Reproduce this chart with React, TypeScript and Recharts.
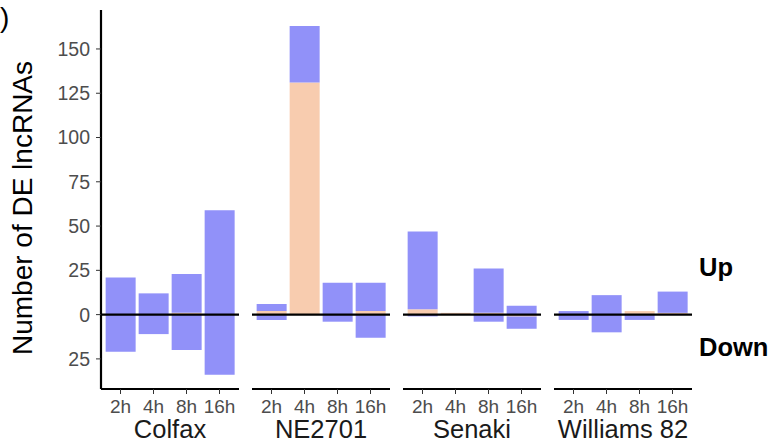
import { BarChart, Bar, XAxis, YAxis, ReferenceLine } from 'recharts';

const times = ['2h', '4h', '8h', '16h'];
const cultivars = ['Colfax', 'NE2701', 'Senaki', 'Williams 82'];

// totals per cultivar (blue + peach)
const upTotal = [
  [21, 12, 23, 59],
  [6, 163, 18, 18],
  [47, 1, 26, 5],
  [2, 11, 2, 13],
];
const upPeach = [
  [0, 0, 1, 0],
  [2, 131, 0, 2],
  [3, 1, 1, 0],
  [0, 0, 2, 1],
];
const downTotal = [
  [21, 11, 20, 34],
  [3, 0, 4, 13],
  [1, 0, 4, 8],
  [3, 10, 3, 0],
];
const downPeach = [
  [0, 0, 0, 0],
  [0, 0, 0, 0],
  [0, 0, 0, 1],
  [0, 0, 0, 0],
];
const yTicks = [-25, 0, 25, 50, 75, 100, 125, 150];

const BLUE = '#9191F9';
const PEACH = '#F8CCAF';
const FONT = '"Liberation Sans", Arial, sans-serif';

const panelLeft = [101, 252, 403, 554];
const PANEL_W = 138;
const Y_AXIS_W = 101;

function rows(c: number) {
  return times.map((t, i) => ({
    time: t,
    upPeach: upPeach[c][i],
    upBlue: upTotal[c][i] - upPeach[c][i],
    downPeach: -downPeach[c][i],
    downBlue: -(downTotal[c][i] - downPeach[c][i]),
  }));
}

function Panel({ c }: { c: number }) {
  const first = c === 0;
  const width = PANEL_W + (first ? Y_AXIS_W : 0);
  const left = panelLeft[c] - (first ? Y_AXIS_W : 0);
  return (
    <div style={{ position: 'absolute', left, top: 0 }}>
      <BarChart
        width={width}
        height={443}
        data={rows(c)}
        stackOffset="sign"
        barCategoryGap="5%"
        margin={{ top: 10, right: 0, bottom: 0, left: 0 }}
      >
        <XAxis
          dataKey="time"
          height={54}
          padding={{ left: 3, right: 3 }}
          axisLine={{ stroke: '#000', strokeWidth: 2.2 }}
          tickLine={{ stroke: '#333' }}
          tickSize={5}
          tickMargin={6}
          interval={0}
          tick={{ fill: '#4D4D4D', fontSize: 19, fontFamily: FONT }}
          label={{
            value: cultivars[c],
            position: 'insideBottom',
            offset: 5,
            style: { fill: '#1A1A1A', fontSize: 25.5, fontFamily: FONT },
          }}
        />
        <YAxis
          hide={!first}
          width={Y_AXIS_W}
          domain={[-42, 172]}
          allowDataOverflow
          ticks={yTicks}
          tickFormatter={(v: number) => String(Math.abs(v))}
          axisLine={{ stroke: '#000', strokeWidth: 2.2 }}
          tickLine={{ stroke: '#333' }}
          tickSize={5}
          tickMargin={6}
          tick={{ fill: '#4D4D4D', fontSize: 19.5, fontFamily: FONT }}
          label={{
            content: () => (
              <text
                x={22}
                y={208}
                transform="rotate(-90 22 208)"
                textAnchor="middle"
                dominantBaseline="central"
                fill="#000"
                fontSize={28}
                fontFamily={FONT}
              >
                Number of DE lncRNAs
              </text>
            ),
          }}
        />
        <Bar dataKey="upPeach" stackId="a" fill={PEACH} isAnimationActive={false} />
        <Bar dataKey="upBlue" stackId="a" fill={BLUE} isAnimationActive={false} />
        <Bar dataKey="downPeach" stackId="a" fill={PEACH} isAnimationActive={false} />
        <Bar dataKey="downBlue" stackId="a" fill={BLUE} isAnimationActive={false} />
        <ReferenceLine y={0} stroke="#000" strokeWidth={2.2} />
      </BarChart>
    </div>
  );
}

export default function App() {
  return (
    <div
      style={{
        position: 'absolute',
        left: 0,
        top: 0,
        width: 773,
        height: 443,
        background: '#fff',
        fontFamily: FONT,
      }}
    >
      <svg width={773} height={443} style={{ position: 'absolute', left: 0, top: 0 }}>
        <text x={0} y={27} fontSize={28} fontFamily={FONT} fill="#000">
          )
        </text>
        <text x={699} y={276} fontSize={25.5} fontWeight="bold" fontFamily={FONT} fill="#000">
          Up
        </text>
        <text x={699} y={356} fontSize={25.5} fontWeight="bold" fontFamily={FONT} fill="#000">
          Down
        </text>
      </svg>
      {cultivars.map((name, c) => (
        <Panel key={name} c={c} />
      ))}
    </div>
  );
}
